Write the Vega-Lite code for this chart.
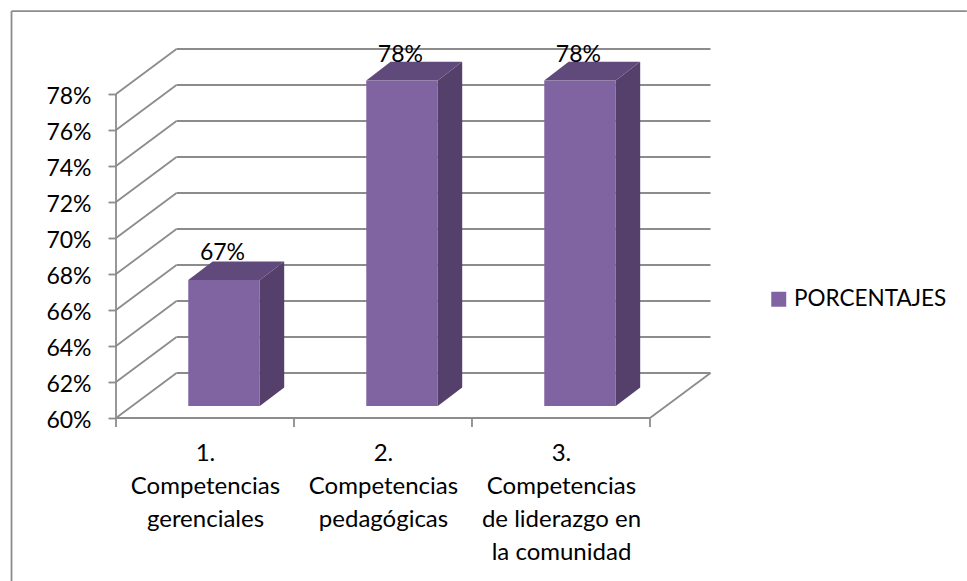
{"$schema":"https://vega.github.io/schema/vega-lite/v6.json","width":594.5,"height":370,"autosize":"none","padding":{"left":116,"top":48,"right":256,"bottom":163},"background":"#ffffff","config":{"view":{"stroke":null},"font":"Lato"},"encoding":{"x":{"field":"x","type":"quantitative","scale":{"domain":[0,3.34],"nice":false,"zero":false},"axis":{"values":[0.5,1.5,2.5],"title":null,"domain":false,"grid":false,"ticks":false,"labelFont":"Lato","labelFontSize":24,"labelColor":"#000000","labelPadding":23,"labelLineHeight":33,"labelOverlap":false,"labelLimit":0,"labelBound":false,"labelFlush":false,"labelBaseline":"top","labelExpr":"datum.value==0.5?['1.','Competencias','gerenciales']:datum.value==1.5?['2.','Competencias','pedagógicas']:['3.','Competencias','de liderazgo en','la comunidad']"}},"y":{"field":"y","type":"quantitative","scale":{"domain":[0.6,0.80556],"nice":false,"zero":false},"axis":{"values":[0.6,0.62,0.64,0.66,0.68,0.7,0.72,0.74,0.76,0.78],"format":".0%","title":null,"domain":false,"grid":false,"tickSize":8,"tickWidth":1.8,"tickColor":"#8c8c8c","labelFont":"Lato","labelFontSize":23,"labelColor":"#000000","labelPadding":17,"labelOffset":2.5,"labelOverlap":false,"labelBound":false,"labelFlush":false}}},"layer":[{"data":{"values":[{"x":-0.587,"x2":4.78,"y":0.8261,"y2":0.8261},{"x":-0.587,"x2":-0.587,"y":0.8261,"y2":0.5}]},"mark":{"type":"rule","stroke":"#8c8c8c","strokeWidth":1.8},"encoding":{"x2":{"field":"x2"},"y2":{"field":"y2"}}},{"data":{"values":[{"x":0,"x2":0.34,"y":0.6,"y2":0.625},{"x":0,"x2":0.34,"y":0.62,"y2":0.645},{"x":0,"x2":0.34,"y":0.64,"y2":0.665},{"x":0,"x2":0.34,"y":0.66,"y2":0.685},{"x":0,"x2":0.34,"y":0.68,"y2":0.705},{"x":0,"x2":0.34,"y":0.7,"y2":0.725},{"x":0,"x2":0.34,"y":0.72,"y2":0.745},{"x":0,"x2":0.34,"y":0.74,"y2":0.765},{"x":0,"x2":0.34,"y":0.76,"y2":0.785},{"x":0,"x2":0.34,"y":0.78,"y2":0.805},{"x":0.34,"x2":3.34,"y":0.625,"y2":0.625},{"x":0.34,"x2":3.34,"y":0.645,"y2":0.645},{"x":0.34,"x2":3.34,"y":0.665,"y2":0.665},{"x":0.34,"x2":3.34,"y":0.685,"y2":0.685},{"x":0.34,"x2":3.34,"y":0.705,"y2":0.705},{"x":0.34,"x2":3.34,"y":0.725,"y2":0.725},{"x":0.34,"x2":3.34,"y":0.745,"y2":0.745},{"x":0.34,"x2":3.34,"y":0.765,"y2":0.765},{"x":0.34,"x2":3.34,"y":0.785,"y2":0.785},{"x":0.34,"x2":3.34,"y":0.805,"y2":0.805},{"x":3,"x2":3.34,"y":0.6,"y2":0.625},{"x":0,"x2":3,"y":0.6,"y2":0.6},{"x":0,"x2":0,"y":0.6,"y2":0.78},{"x":0,"x2":0,"y":0.6,"y2":0.595},{"x":1,"x2":1,"y":0.6,"y2":0.595},{"x":2,"x2":2,"y":0.6,"y2":0.595},{"x":3,"x2":3,"y":0.6,"y2":0.595}]},"mark":{"type":"rule","stroke":"#8c8c8c","strokeWidth":1.8},"encoding":{"x2":{"field":"x2"},"y2":{"field":"y2"}}},{"data":{"values":[{"bar":1,"x":0.808,"y":0.6067,"y2":0.6767},{"bar":1,"x":0.945,"y":0.6169,"y2":0.6869},{"bar":2,"x":1.808,"y":0.6067,"y2":0.7875},{"bar":2,"x":1.945,"y":0.6169,"y2":0.7979},{"bar":3,"x":2.808,"y":0.6067,"y2":0.7875},{"bar":3,"x":2.945,"y":0.6169,"y2":0.7979}]},"mark":{"type":"area","fill":"#54406a","line":false},"encoding":{"y2":{"field":"y2"},"detail":{"field":"bar"}}},{"data":{"values":[{"bar":1,"x":0.406,"y":0.6767,"y2":0.6767},{"bar":1,"x":0.543,"y":0.6767,"y2":0.6869},{"bar":1,"x":0.808,"y":0.6767,"y2":0.6869},{"bar":1,"x":0.945,"y":0.6869,"y2":0.6869},{"bar":2,"x":1.406,"y":0.7875,"y2":0.7875},{"bar":2,"x":1.543,"y":0.7875,"y2":0.7979},{"bar":2,"x":1.808,"y":0.7875,"y2":0.7979},{"bar":2,"x":1.945,"y":0.7979,"y2":0.7979},{"bar":3,"x":2.406,"y":0.7875,"y2":0.7875},{"bar":3,"x":2.543,"y":0.7875,"y2":0.7979},{"bar":3,"x":2.808,"y":0.7875,"y2":0.7979},{"bar":3,"x":2.945,"y":0.7979,"y2":0.7979}]},"mark":{"type":"area","fill":"#604a7b","line":false},"encoding":{"y2":{"field":"y2"},"detail":{"field":"bar"}}},{"data":{"values":[{"x":0.406,"x2":0.808,"y":0.6767,"y2":0.6067,"serie":"PORCENTAJES"},{"x":1.406,"x2":1.808,"y":0.7875,"y2":0.6067,"serie":"PORCENTAJES"},{"x":2.406,"x2":2.808,"y":0.7875,"y2":0.6067,"serie":"PORCENTAJES"}]},"mark":{"type":"rect"},"encoding":{"x2":{"field":"x2"},"y2":{"field":"y2"},"color":{"field":"serie","type":"nominal","scale":{"domain":["PORCENTAJES"],"range":["#8064a2"]},"legend":{"title":null,"orient":"none","legendX":651.5,"legendY":240,"symbolType":"square","symbolSize":225,"symbolStrokeWidth":0,"labelFont":"Lato","labelFontSize":22.5,"labelColor":"#000000","labelLimit":0,"padding":0}}}},{"data":{"values":[{"x":0.598,"y":0.67},{"x":1.598,"y":0.78},{"x":2.598,"y":0.78}]},"mark":{"type":"text","font":"Lato","fontSize":23,"color":"#000000","align":"center","baseline":"alphabetic","dy":-32},"encoding":{"text":{"field":"y","type":"quantitative","format":".0%"}}}]}
